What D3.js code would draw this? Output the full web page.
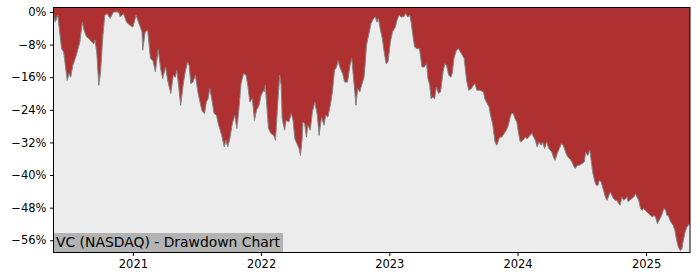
<!DOCTYPE html>
<html>
<head>
<meta charset="utf-8">
<script src="https://d3js.org/d3.v7.min.js"></script>
<style>
body { margin: 0; background: #fff; }
svg text { font-family: "DejaVu Sans", sans-serif; fill: #000; }
</style>
</head>
<body>
<svg width="700" height="280"></svg>
<script>
const title = "VC (NASDAQ) - Drawdown Chart";

// drawdown from running peak, in percent
const dates = [
  "2020-05-20","2020-05-25","2020-06-01","2020-06-12","2020-06-18","2020-06-28","2020-07-03","2020-07-08","2020-07-14","2020-07-24",
  "2020-08-03","2020-08-10","2020-08-15","2020-08-22","2020-08-29","2020-09-06","2020-09-12","2020-09-15","2020-09-20","2020-09-26",
  "2020-10-01","2020-10-07","2020-10-13","2020-10-20","2020-10-28","2020-11-07","2020-11-21","2020-11-26","2020-12-05","2020-12-14","2020-12-24",
  "2021-01-01","2021-01-10","2021-01-17","2021-01-27","2021-01-29","2021-02-05","2021-02-12","2021-02-20","2021-02-27","2021-03-06",
  "2021-03-14","2021-03-21","2021-03-27","2021-04-04","2021-04-10","2021-04-19","2021-04-26","2021-05-02","2021-05-06","2021-05-11",
  "2021-05-17","2021-05-24","2021-05-30","2021-06-06","2021-06-10","2021-06-15","2021-06-21","2021-06-28","2021-07-05","2021-07-13",
  "2021-07-18","2021-07-24","2021-07-29","2021-08-03","2021-08-08","2021-08-15","2021-08-20","2021-08-27","2021-09-01","2021-09-11",
  "2021-09-18","2021-09-23","2021-09-28","2021-10-04","2021-10-11","2021-10-18","2021-10-24","2021-10-30","2021-11-05","2021-11-12",
  "2021-11-19","2021-11-24","2021-11-30","2021-12-07","2021-12-13","2021-12-19","2021-12-26",
  "2022-01-01","2022-01-08","2022-01-10","2022-01-13","2022-01-17","2022-01-22","2022-01-29","2022-02-06","2022-02-11","2022-02-17",
  "2022-02-23","2022-02-27","2022-03-02","2022-03-09","2022-03-13","2022-03-21","2022-03-28","2022-04-02","2022-04-07","2022-04-13",
  "2022-04-19","2022-04-23","2022-04-28","2022-04-30","2022-05-05","2022-05-10","2022-05-14","2022-05-21","2022-05-27","2022-06-03",
  "2022-06-10","2022-06-15","2022-06-22","2022-06-29","2022-07-04","2022-07-10","2022-07-17","2022-07-23","2022-07-29","2022-08-04",
  "2022-08-08","2022-08-13","2022-08-21","2022-08-27","2022-09-04","2022-09-11","2022-09-16","2022-09-23","2022-09-28","2022-10-03",
  "2022-10-09","2022-10-14","2022-10-21","2022-10-24","2022-10-28","2022-11-05","2022-11-10","2022-11-17","2022-11-22","2022-11-27",
  "2022-12-01","2022-12-06","2022-12-12","2022-12-18","2022-12-23","2022-12-28",
  "2023-01-04","2023-01-10","2023-01-18","2023-01-23","2023-01-29","2023-02-04","2023-02-11","2023-02-16","2023-02-23","2023-02-28",
  "2023-03-04","2023-03-09","2023-03-14","2023-03-21","2023-03-28","2023-04-04","2023-04-10","2023-04-17","2023-04-21","2023-04-26",
  "2023-04-30","2023-05-05","2023-05-10","2023-05-15","2023-05-21","2023-05-27","2023-06-03","2023-06-08","2023-06-13","2023-06-19",
  "2023-06-25","2023-06-29","2023-07-04","2023-07-11","2023-07-17","2023-07-25","2023-08-02","2023-08-09","2023-08-15","2023-08-23",
  "2023-08-28","2023-09-02","2023-09-07","2023-09-16","2023-09-26","2023-09-30","2023-10-07","2023-10-12","2023-10-16","2023-10-22",
  "2023-10-29","2023-11-03","2023-11-11","2023-11-17","2023-11-24","2023-11-30","2023-12-06","2023-12-11","2023-12-15","2023-12-20",
  "2023-12-25","2023-12-30",
  "2024-01-04","2024-01-09","2024-01-16","2024-01-23","2024-01-29","2024-02-05","2024-02-11","2024-02-16","2024-02-21","2024-02-26",
  "2024-03-02","2024-03-08","2024-03-12","2024-03-18","2024-03-24","2024-03-30","2024-04-03","2024-04-08","2024-04-12","2024-04-17",
  "2024-04-23","2024-04-29","2024-05-05","2024-05-10","2024-05-17","2024-05-23","2024-05-29","2024-06-04","2024-06-08","2024-06-13",
  "2024-06-20","2024-06-25","2024-07-02","2024-07-09","2024-07-13","2024-07-19","2024-07-25","2024-07-28","2024-08-02","2024-08-07",
  "2024-08-12","2024-08-17","2024-08-21","2024-08-26","2024-09-02","2024-09-07","2024-09-12","2024-09-17","2024-09-21","2024-09-26",
  "2024-09-30","2024-10-05","2024-10-10","2024-10-15","2024-10-19","2024-10-24","2024-10-29","2024-11-04","2024-11-08","2024-11-11",
  "2024-11-15","2024-11-21","2024-11-27","2024-12-02","2024-12-06","2024-12-11","2024-12-16","2024-12-21","2024-12-25","2024-12-30",
  "2025-01-04","2025-01-09","2025-01-14","2025-01-19","2025-01-23","2025-01-28","2025-02-02","2025-02-07","2025-02-12","2025-02-17",
  "2025-02-21","2025-02-26","2025-03-01","2025-03-05","2025-03-10","2025-03-15","2025-03-19","2025-03-24","2025-03-29","2025-04-03",
  "2025-04-08","2025-04-13","2025-04-17","2025-04-22","2025-04-27","2025-05-01","2025-05-06"
];
const drawdown = [
  -0.4,-2.5,-0.8,-9.0,-9.8,-16.8,-15.1,-16.0,-13.1,-10.6,
  -7.4,-2.5,-4.5,-6.1,-6.5,-7.4,-7.8,-6.9,-9.8,-18.0,
  -14.7,-6.5,-0.8,-0.4,-1.6,0,0,-1.2,-0.4,-2.5,-3.3,
  -3.7,-0.8,-2.5,-4.9,-9.4,-4.9,-4.5,-11.4,-11.9,-14.7,
  -9.2,-13.9,-16.3,-13.5,-16.8,-20.0,-15.5,-16.0,-14.3,-18.0,
  -22.9,-18.0,-14.7,-12.3,-13.1,-17.6,-17.2,-15.5,-19.6,-22.9,
  -24.5,-24.9,-22.1,-21.3,-18.8,-22.1,-24.9,-25.3,-27.4,-30.3,
  -33.1,-31.5,-33.1,-31.1,-27.4,-25.3,-28.6,-23.7,-17.6,-15.1,
  -15.5,-18.0,-22.1,-21.3,-26.6,-24.1,-22.9,
  -20.4,-19.2,-19.6,-18.0,-22.9,-28.6,-29.8,-30.3,-31.5,-22.9,
  -15.5,-18.0,-26.2,-29.0,-26.6,-27.0,-24.9,-26.6,-31.1,-32.3,
  -33.5,-35.2,-31.1,-27.0,-27.4,-30.7,-27.8,-29.0,-24.5,-22.1,
  -25.3,-30.3,-25.8,-27.8,-25.3,-25.8,-22.9,-19.6,-14.3,-13.5,
  -11.9,-13.5,-15.1,-17.2,-17.2,-13.1,-11.4,-18.0,-22.9,-18.8,
  -19.6,-18.0,-16.0,-13.1,-8.2,-4.9,-2.8,-1.6,-1.2,-2.5,
  -1.6,-4.1,-6.5,-10.2,-12.7,-12.3,
  -7.4,-4.9,-3.7,-2.0,-0.8,-1.2,-1.2,-0.4,-1.2,-0.8,
  -2.5,-5.7,-8.6,-9.0,-9.0,-13.5,-13.5,-12.7,-16.3,-18.0,
  -21.3,-20.9,-21.3,-18.4,-20.0,-19.6,-14.7,-12.7,-13.1,-15.5,
  -16.0,-15.1,-11.4,-9.4,-9.0,-10.2,-11.4,-16.8,-19.2,-18.8,
  -18.0,-17.6,-19.2,-19.2,-19.6,-21.3,-22.5,-23.3,-25.3,-27.4,
  -31.9,-32.7,-30.7,-30.7,-29.8,-29.0,-27.8,-25.8,-24.9,-24.9,
  -26.2,-27.0,
  -29.8,-31.9,-31.5,-30.7,-31.1,-30.3,-29.8,-30.7,-31.5,-33.1,
  -31.9,-32.7,-31.9,-33.5,-31.9,-33.5,-33.9,-34.4,-35.6,-36.4,
  -34.7,-33.5,-32.3,-32.7,-34.4,-35.6,-36.0,-36.8,-37.6,-38.4,
  -37.6,-37.6,-37.2,-36.8,-34.4,-35.2,-33.9,-36.0,-39.3,-41.3,
  -42.5,-42.5,-41.3,-41.7,-43.8,-45.4,-46.2,-45.0,-44.2,-45.0,
  -45.8,-46.2,-46.2,-47.0,-47.4,-45.4,-46.2,-45.8,-45.4,-46.6,
  -46.2,-45.8,-45.4,-44.6,-45.4,-46.2,-48.2,-48.7,-48.2,-48.7,
  -49.1,-49.5,-49.9,-50.3,-49.9,-50.3,-51.9,-51.1,-50.3,-49.1,
  -48.2,-48.7,-49.9,-49.9,-51.1,-51.9,-52.3,-53.6,-56.0,-57.7,
  -58.5,-58.1,-56.0,-54.0,-52.8,-52.3,-51.9
];

const yTicks = [0, -8, -16, -24, -32, -40, -48, -56];
const xTicks = ["2021-01-01", "2022-01-01", "2023-01-01", "2024-01-01", "2025-01-01"];
const yLimits = [-59.0, 1.1];

const svg = d3.select("svg");
const plotLeft = 53.5, plotRight = 690, plotTop = 7.5, plotBottom = 252.5;

const parse = d3.timeParse("%Y-%m-%d");
const data = dates.map((d, i) => ({date: parse(d), value: drawdown[i]}));

const x = d3.scaleTime()
    .domain(d3.extent(data, d => d.date))
    .range([plotLeft, plotRight]);
const y = d3.scaleLinear()
    .domain(yLimits)
    .range([plotBottom, plotTop]);

svg.append("defs").append("clipPath").attr("id", "plot")
  .append("rect")
    .attr("x", plotLeft).attr("y", plotTop)
    .attr("width", plotRight - plotLeft).attr("height", plotBottom - plotTop);

// light background, red from curve up to top
svg.append("rect")
    .attr("x", plotLeft).attr("y", plotTop)
    .attr("width", plotRight - plotLeft).attr("height", plotBottom - plotTop)
    .attr("fill", "#ececec");

const g = svg.append("g").attr("clip-path", "url(#plot)");

g.append("path")
    .datum(data)
    .attr("fill", "#af3030")
    .attr("d", d3.area()
        .x(d => x(d.date))
        .y0(y(yLimits[1]))
        .y1(d => y(d.value)));

g.append("path")
    .datum(data)
    .attr("fill", "none")
    .attr("stroke", "#858585")
    .attr("stroke-width", 1)
    .attr("d", d3.line()
        .x(d => x(d.date))
        .y(d => y(d.value)));

// title box at bottom left
const labelBox = svg.append("rect")
    .attr("x", plotLeft)
    .attr("y", 233)
    .attr("height", plotBottom - 233)
    .attr("fill", "#b3b3b3");
const label = svg.append("text")
    .attr("x", plotLeft + 2.5)
    .attr("y", 247.3)
    .attr("font-size", "13.9px")
    .text(title);
labelBox.attr("width", label.node().getComputedTextLength() + 5.5);

// frame
svg.append("rect")
    .attr("x", plotLeft).attr("y", plotTop)
    .attr("width", plotRight - plotLeft).attr("height", plotBottom - plotTop)
    .attr("fill", "none")
    .attr("stroke", "#000")
    .attr("stroke-width", 1);

const yAxis = svg.append("g")
    .attr("transform", "translate(" + plotLeft + ",0)")
    .call(d3.axisLeft(y)
        .tickValues(yTicks)
        .tickSize(3.5)
        .tickPadding(3.5)
        .tickFormat(d => (d < 0 ? "\u2212" : "") + Math.abs(d) + "%"));
yAxis.select(".domain").remove();
yAxis.selectAll("text").attr("font-size", "11.5px").attr("font-family", "DejaVu Sans");

const xAxis = svg.append("g")
    .attr("transform", "translate(0," + plotBottom + ")")
    .call(d3.axisBottom(x)
        .tickValues(xTicks.map(parse))
        .tickSize(3.5)
        .tickPadding(3.5)
        .tickFormat(d3.timeFormat("%Y")));
xAxis.select(".domain").remove();
xAxis.selectAll("text").attr("font-size", "11.5px").attr("font-family", "DejaVu Sans");
</script>
</body>
</html>
